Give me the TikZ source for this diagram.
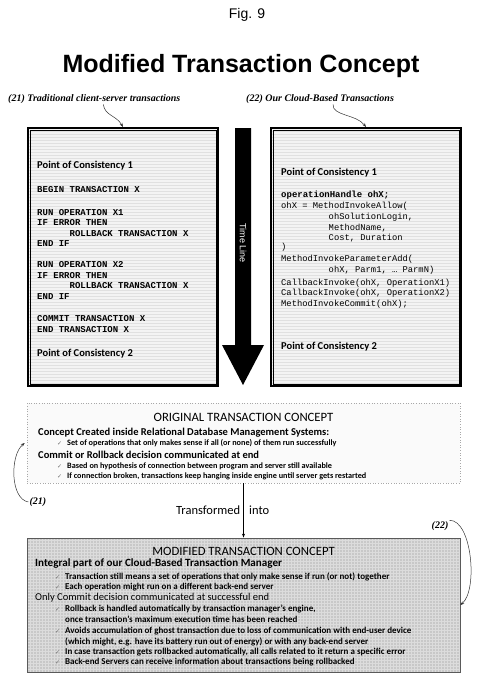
\documentclass[tikz,border=0pt]{standalone}
\usepackage{fontspec}
\setmainfont{Carlito}
\setmonofont{Liberation Mono}
\newfontfamily\arialfont{Liberation Sans}
\newfontfamily\corsfont{Liberation Serif}
\newfontfamily\symfont{DejaVu Sans}
\usetikzlibrary{arrows.meta, fit, patterns}
\definecolor{cStripe}{HTML}{F3F3F3}
\definecolor{lStripe}{HTML}{E0E0E0}
\definecolor{cOrig}  {HTML}{FAFAFA}
\definecolor{bOrig}  {HTML}{A8A8A8}
\definecolor{cMod}   {HTML}{C8C8C8}
\definecolor{lMod}   {HTML}{DCDCDC}
\definecolor{bMod}   {HTML}{5A5A5A}
\definecolor{cCheck} {HTML}{707070}
\tikzset{
  figlbl/.style  ={font=\arialfont\fontsize{14}{16}\selectfont, inner sep=0pt},
  titlelbl/.style={font=\arialfont\bfseries\fontsize{25}{28}\selectfont, inner sep=0pt},
  reflbl/.style  ={font=\corsfont\bfseries\itshape\fontsize{10}{12}\selectfont, inner sep=1pt},
  timelbl/.style ={font=\arialfont\fontsize{9}{10}\selectfont, text=white, inner sep=0pt},
  codebox/.style ={draw=black, line width=2pt, minimum width=190pt, minimum height=258pt,
                   inner sep=0pt, preaction={fill=cStripe},
                   pattern=horizontal lines, pattern color=lStripe},
  innerframe/.style={draw=black, line width=0.6pt},
  poclbl/.style  ={font=\bfseries\fontsize{10.5}{12}\selectfont, inner sep=0pt},
  codel/.style   ={font=\ttfamily\bfseries\fontsize{9}{10}\selectfont, inner sep=0pt},
  coder/.style   ={font=\ttfamily\fontsize{8.8}{10}\selectfont, inner sep=0pt},
  origbox/.style ={draw=bOrig, dotted, line width=0.6pt, fill=cOrig,
                   minimum width=433pt, minimum height=80pt, inner sep=0pt},
  modbox/.style  ={draw=bMod, line width=0.8pt, preaction={fill=cMod},
                   pattern=grid, pattern color=lMod,
                   minimum width=433pt, minimum height=134pt, inner sep=0pt},
  boxtitle/.style={font=\fontsize{12.7}{14}\selectfont, inner sep=0pt},
  boxhead/.style ={font=\bfseries\fontsize{10.5}{12}\selectfont, inner sep=0pt},
  boxsub/.style  ={font=\fontsize{10.5}{12}\selectfont, inner sep=0pt},
  boxitem/.style ={font=\bfseries\fontsize{8.2}{10}\selectfont, inner sep=0pt},
  flowlbl/.style ={font=\fontsize{12.5}{14}\selectfont, inner sep=0pt},
  arr/.style={-{Stealth[length=4pt,width=3pt]}, line width=0.6pt},
  ptr/.style={-{Stealth[length=4pt,width=3pt]}, line width=0.5pt, draw=black!80},
}
\newcommand{\ind}[1]{\hspace*{#1\fontcharwd\font`M}}
\newcommand{\ck}{\llap{\textcolor{cCheck}{\symfont\mdseries\fontsize{6}{7}\selectfont ✓}\hspace{5pt}}}

\begin{document}
\begin{tikzpicture}[x=1pt, y=-1pt]
\path[use as bounding box, fill=white] (0,0) rectangle (480,693);

% ── Headings ──────────────────────────────────────────────────────────────────
\node[figlbl, anchor=base] (fig) at (247,19) {Fig. 9};
\node[titlelbl, anchor=base] (title) at (241,73) {Modified Transaction Concept};
\node[reflbl, anchor=base west] (lbl21) at (7,101) {(21) Traditional client-server transactions};
\node[reflbl, anchor=base west] (lbl22) at (245,101) {(22) Our Cloud-Based Transactions};

% ── Code boxes ────────────────────────────────────────────────────────────────
\node[codebox] (trad) at (123,257) {};
\node[innerframe, fit=(trad), inner sep=-3.2pt] (tradin) {};
\node[codebox] (cloud) at (366,257) {};
\node[innerframe, fit=(cloud), inner sep=-3.2pt] (cloudin) {};

% Traditional transaction
\node[poclbl, anchor=base west] (tpoc1) at (37,168) {Point of Consistency 1};
\foreach \y/\txt [count=\i] in {192/BEGIN TRANSACTION X, 215/RUN OPERATION X1,
    225/IF ERROR THEN, 236/\ind{6}ROLLBACK TRANSACTION X, 246/END IF,
    267/RUN OPERATION X2, 278/IF ERROR THEN, 288/\ind{6}ROLLBACK TRANSACTION X,
    299/END IF, 321/COMMIT TRANSACTION X, 332/END TRANSACTION X}
  \node[codel, anchor=base west] (tc\i) at (37,\y) {\txt};
\node[poclbl, anchor=base west] (tpoc2) at (37,356) {Point of Consistency 2};

% Cloud-based transaction
\node[poclbl, anchor=base west] (cpoc1) at (281,175) {Point of Consistency 1};
\node[codel, anchor=base west] (cc0) at (281,197) {operationHandle ohX;};
\foreach \y/\txt [count=\i] in {208/ohX = MethodInvokeAllow(,
    219/{\ind{9}ohSolutionLogin,}, 230/{\ind{9}MethodName,},
    240/{\ind{9}Cost, Duration}, 249/), 261/MethodInvokeParameterAdd(,
    272/{\ind{9}ohX, Parm1, … ParmN)}, 285/{CallbackInvoke(ohX, OperationX1)},
    295/{CallbackInvoke(ohX, OperationX2)}, 306/MethodInvokeCommit(ohX);}
  \node[coder, anchor=base west] (cc\i) at (281,\y) {\txt};
\node[poclbl, anchor=base west] (cpoc2) at (281,349) {Point of Consistency 2};

% ── Time line ─────────────────────────────────────────────────────────────────
\fill[black] (235,128) -- (251,128) -- (251,345) -- (264,345) -- (243,385)
  -- (222,345) -- (235,345) -- cycle;
\node[timelbl, rotate=-90] (tl) at (243,243) {Time Line};

% ── Pointers to code boxes ────────────────────────────────────────────────────
\draw[ptr] ([xshift=9pt]lbl21.south) .. controls (105,116) and (116,115) .. (trad.north);
\draw[ptr] ([xshift=13pt]lbl22.south) .. controls (332,116) and (356,114) .. (cloud.north);

% ── Original concept ──────────────────────────────────────────────────────────
\node[origbox] (orig) at (243.5,443) {};
\node[boxtitle, anchor=base] (origt) at (243.5,421) {ORIGINAL TRANSACTION CONCEPT};
\node[boxhead, anchor=base west] (oh1) at (38,435)
  {Concept Created inside Relational Database Management Systems:};
\node[boxhead, anchor=base west] (oh2) at (38,458)
  {Commit or Rollback decision communicated at end};
\foreach \y/\txt [count=\i] in {
    445/{\ck Set of operations that only makes sense if all (or none) of them run successfully},
    468/{\ck Based on hypothesis of connection between program and server still available},
    478/{\ck If connection broken, transactions keep hanging inside engine until server gets restarted}}
  \node[boxitem, anchor=base west] (ob\i) at (67,\y) {\txt};

% ── Transformation ────────────────────────────────────────────────────────────
\node[modbox] (modif) at (243.5,605) {};
\draw[arr] (orig) -- (modif);
\node[flowlbl, anchor=base west] (tfm) at (249,514) {\llap{Transformed\hspace{9pt}}into};

% ── Modified concept ──────────────────────────────────────────────────────────
\node[boxtitle, anchor=base] (modt) at (243.5,555) {MODIFIED TRANSACTION CONCEPT};
\node[boxhead, font=\bfseries\fontsize{11.1}{13}\selectfont, anchor=base west] (mh1) at (35,566)
  {Integral part of our Cloud-Based Transaction Manager};
\node[boxsub, anchor=base west] (mh2) at (35,600)
  {Only Commit decision communicated at successful end};
\foreach \y/\txt [count=\i] in {
    579/{\ck Transaction still means a set of operations that only make sense if run (or not) together},
    589/{\ck Each operation might run on a different back-end server},
    611/{\ck Rollback is handled automatically by transaction manager’s engine,},
    622/{once transaction’s maximum execution time has been reached},
    633/{\ck Avoids accumulation of ghost transaction due to loss of communication with end-user device},
    644/{(which might, e.g. have its battery run out of energy) or with any back-end server},
    654/{\ck In case transaction gets rollbacked automatically, all calls related to it return a specific error},
    664/{\ck Back-end Servers can receive information about transactions being rollbacked}}
  \node[boxitem, font=\bfseries\fontsize{9}{10}\selectfont, anchor=base west] (mb\i) at (65,\y) {\txt};

% ── Reference marks ───────────────────────────────────────────────────────────
\node[reflbl] (n21) at (38,502) {(21)};
\node[reflbl] (n22) at (440,526) {(22)};
\draw[ptr] (n21.west) .. controls (10,499) and (10,455) .. ([xshift=-2pt]orig.west);
\draw[ptr] (n22.north east) .. controls (472,520) and (478,590) .. (modif.east);

\end{tikzpicture}
\end{document}
